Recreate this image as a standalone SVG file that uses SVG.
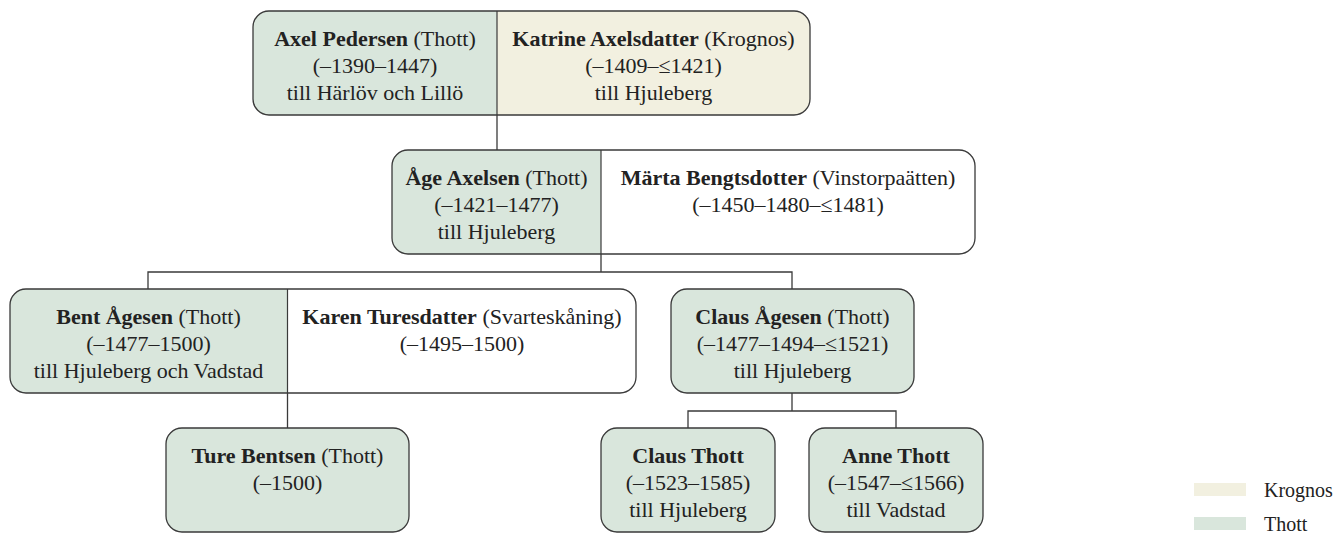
<svg xmlns="http://www.w3.org/2000/svg" width="1335" height="533" viewBox="0 0 1335 533">
<style>
text{font-family:"Liberation Serif","DejaVu Serif",serif;font-size:22px;fill:#222;text-anchor:middle}
.b{font-weight:bold}
.box{stroke:#3a3a3a;stroke-width:1.3;fill:none}
.g{fill:#d9e6dc}
.c{fill:#f2f0e0}
.w{fill:#ffffff}
.div{stroke:#3a3a3a;stroke-width:1.2}
.conn{stroke:#3a3a3a;stroke-width:1.3;fill:none}
.leg{text-anchor:start;font-size:20px}
</style>
<rect width="1335" height="533" fill="#ffffff"/>
<g id="connectors" class="conn">
<path d="M497 115V150"/>
<path d="M601 254V272M148 289V272H792V289"/>
<path d="M287.5 393V428"/>
<path d="M792 393V411M688 428V411H896V428"/>
</g>
<g id="axel-katrine">
<rect x="253" y="11" width="557" height="104" rx="16" class="c"/>
<path d="M269 11H497V115H269A16 16 0 0 1 253 99V27A16 16 0 0 1 269 11Z" class="g"/>
<rect x="253" y="11" width="557" height="104" rx="16" class="box"/>
<line x1="497" y1="11" x2="497" y2="115" class="div"/>
<text x="375" y="45.5"><tspan class="b">Axel Pedersen</tspan> (Thott)</text>
<text x="375" y="72.8">(–1390–1447)</text>
<text x="375" y="100">till Härlöv och Lillö</text>
<text x="653.5" y="45.5"><tspan class="b">Katrine Axelsdatter</tspan> (Krognos)</text>
<text x="653.5" y="72.8">(–1409–≤1421)</text>
<text x="653.5" y="100">till Hjuleberg</text>
</g>
<g id="age-marta">
<rect x="392" y="150" width="583" height="104" rx="16" class="w"/>
<path d="M408 150H601V254H408A16 16 0 0 1 392 238V166A16 16 0 0 1 408 150Z" class="g"/>
<rect x="392" y="150" width="583" height="104" rx="16" class="box"/>
<line x1="601" y1="150" x2="601" y2="254" class="div"/>
<text x="496.5" y="184.5"><tspan class="b">Åge Axelsen</tspan> (Thott)</text>
<text x="496.5" y="211.8">(–1421–1477)</text>
<text x="496.5" y="239">till Hjuleberg</text>
<text x="788" y="184.5"><tspan class="b">Märta Bengtsdotter</tspan> (Vinstorpaätten)</text>
<text x="788" y="211.8">(–1450–1480–≤1481)</text>
</g>
<g id="bent-karen">
<rect x="10" y="289" width="626" height="104" rx="16" class="w"/>
<path d="M26 289H287.5V393H26A16 16 0 0 1 10 377V305A16 16 0 0 1 26 289Z" class="g"/>
<rect x="10" y="289" width="626" height="104" rx="16" class="box"/>
<line x1="287.5" y1="289" x2="287.5" y2="393" class="div"/>
<text x="148.5" y="323.5"><tspan class="b">Bent Ågesen</tspan> (Thott)</text>
<text x="148.5" y="350.8">(–1477–1500)</text>
<text x="148.5" y="378">till Hjuleberg och Vadstad</text>
<text x="462" y="323.5"><tspan class="b">Karen Turesdatter</tspan> (Svarteskåning)</text>
<text x="462" y="350.8">(–1495–1500)</text>
</g>
<g id="claus-agesen">
<rect x="671" y="289" width="243" height="104" rx="16" class="g"/>
<rect x="671" y="289" width="243" height="104" rx="16" class="box"/>
<text x="792.5" y="323.5"><tspan class="b">Claus Ågesen</tspan> (Thott)</text>
<text x="792.5" y="350.8">(–1477–1494–≤1521)</text>
<text x="792.5" y="378">till Hjuleberg</text>
</g>
<g id="ture-bentsen">
<rect x="166" y="428" width="243" height="104" rx="16" class="g"/>
<rect x="166" y="428" width="243" height="104" rx="16" class="box"/>
<text x="287.5" y="462.5"><tspan class="b">Ture Bentsen</tspan> (Thott)</text>
<text x="287.5" y="489.8">(–1500)</text>
</g>
<g id="claus-thott">
<rect x="601" y="428" width="174" height="104" rx="16" class="g"/>
<rect x="601" y="428" width="174" height="104" rx="16" class="box"/>
<text x="688" y="462.5" class="b">Claus Thott</text>
<text x="688" y="489.8">(–1523–1585)</text>
<text x="688" y="517">till Hjuleberg</text>
</g>
<g id="anne-thott">
<rect x="809" y="428" width="174" height="104" rx="16" class="g"/>
<rect x="809" y="428" width="174" height="104" rx="16" class="box"/>
<text x="896" y="462.5" class="b">Anne Thott</text>
<text x="896" y="489.8">(–1547–≤1566)</text>
<text x="896" y="517">till Vadstad</text>
</g>
<g id="legend">
<rect x="1194" y="483" width="52" height="13" class="c"/>
<text x="1264" y="497" class="leg">Krognos</text>
<rect x="1194" y="517" width="52" height="13" class="g"/>
<text x="1264" y="531" class="leg">Thott</text>
</g>
</svg>
